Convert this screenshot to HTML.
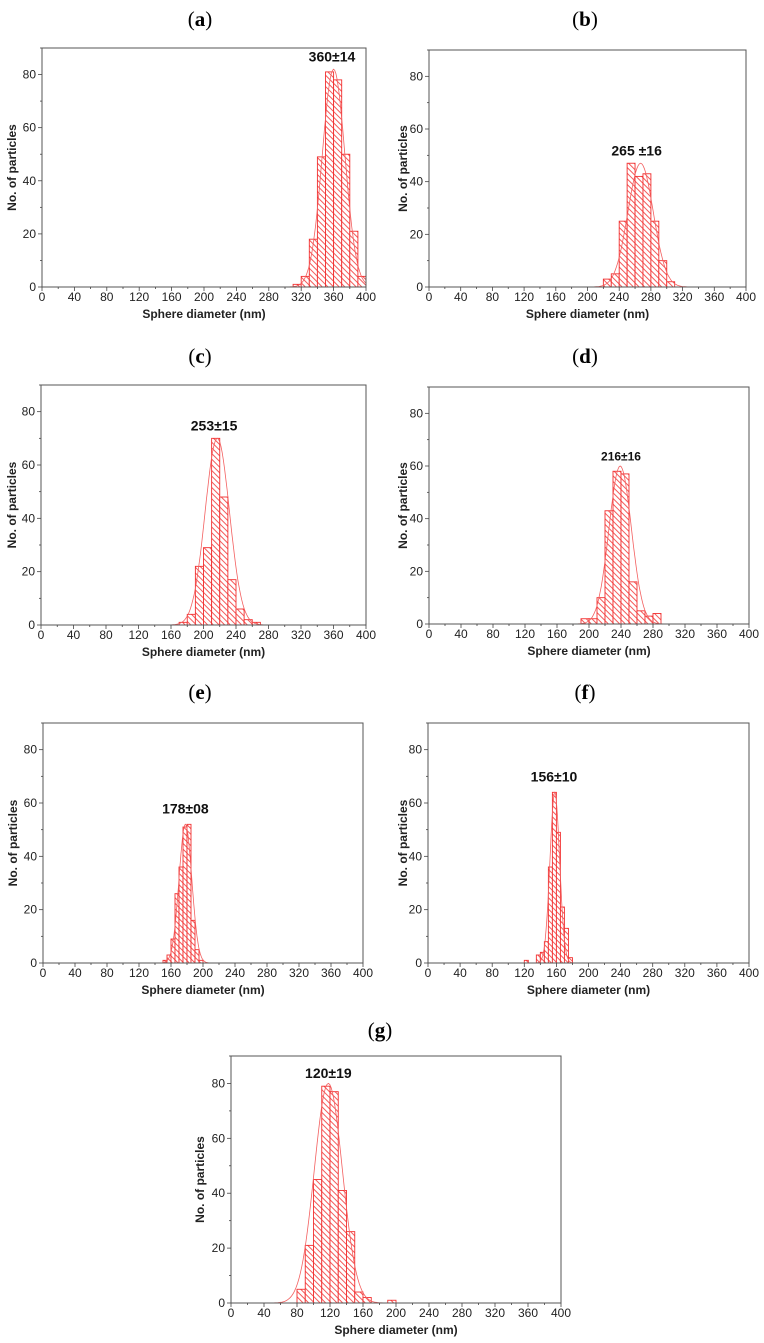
<!DOCTYPE html>
<html><head><meta charset="utf-8"><style>
html,body{margin:0;padding:0;background:#fff;}
svg{display:block;}
</style></head><body>
<svg id="fig" width="764" height="1343" viewBox="0 0 764 1343" xmlns="http://www.w3.org/2000/svg">
<defs>
<pattern id="hatch" patternUnits="userSpaceOnUse" width="4" height="4" patternTransform="rotate(-45)">
<rect x="0" y="0" width="4" height="4" fill="#fff"/>
<line x1="1" y1="0" x2="1" y2="4" stroke="#f45a5a" stroke-width="1"/>
</pattern>
</defs>
</svg>
<script>
// ---- data ----
const panelIds = ['a','b','c','d','e','f','g'];
const binWidths = [10,10,10,10,5,5,10];
const binStartsA = [310,320,330,340,350,360,370,380,390];
const countsA = [1,4,18,49,81,78,50,21,4];
const binStartsB = [220,230,240,250,260,270,280,290,300];
const countsB = [3,5,25,47,42,43,25,10,2];
const binStartsC = [170,180,190,200,210,220,230,240,250,260];
const countsC = [1,4,22,29,70,48,17,6,2,1];
const binStartsD = [190,200,210,220,230,240,250,260,270,280];
const countsD = [2,2,10,43,58,57,16,5,3,4];
const binStartsE = [150,155,160,165,170,175,180,185,190,195];
const countsE = [1,3,9,26,36,51,52,16,5,1];
const binStartsF = [120,135,140,145,150,155,160,165,170,175];
const countsF = [1,3,4,8,36,64,49,21,13,2];
const binStartsG = [80,90,100,110,120,130,140,150,160,190];
const countsG = [5,21,45,79,77,41,26,4,2,1];
const fitMeans = [360,267,217,239,178,158,118];
const fitSigmas = [14,16,15,14,8,6,17];
const fitAmps = [82,47,70,60,52,64,80];
const annotations = ['360±14','265 ±16','253±15','216±16','178±08','156±10','120±19'];
const annotationX = [358,262,213,240,178,157,118];
const annotationY = [85,50,73,62,56,68,82];
const xTicks = [0,40,80,120,160,200,240,280,320,360,400];
const yTicks = [0,20,40,60,80];

// ---- layout ----
const boxes = [
 {l:42,r:366,t:48,b:287,tx:200,ty:26,yt:12},
 {l:429,r:746,t:50,b:287,tx:585,ty:26,yt:403},
 {l:41,r:366,t:385,b:625,tx:200,ty:363,yt:12},
 {l:429,r:749,t:387,b:624,tx:585,ty:363,yt:403},
 {l:43,r:363,t:723,b:963,tx:200,ty:699,yt:13},
 {l:428,r:749,t:723,b:963,tx:585,ty:699,yt:403},
 {l:231,r:561,t:1056,b:1303,tx:380,ty:1037,yt:200}
];
const starts=[binStartsA,binStartsB,binStartsC,binStartsD,binStartsE,binStartsF,binStartsG];
const counts=[countsA,countsB,countsC,countsD,countsE,countsF,countsG];
const NS='http://www.w3.org/2000/svg';
const svg=document.getElementById('fig');
function mk(tag,attrs,parent){const e=document.createElementNS(NS,tag);for(const k in attrs)e.setAttribute(k,attrs[k]);(parent||svg).appendChild(e);return e;}

panelIds.forEach((id,i)=>{
 const B=boxes[i];
 const g=mk('g',{});
 
 
 const xs=v=>B.l+(v/400)*(B.r-B.l);
 const ys=v=>B.b-(v/90)*(B.b-B.t);
 const tt=mk('text',{x:B.tx,y:B.ty,'text-anchor':'middle','font-family':'Liberation Serif, serif','font-size':'21'},g);
 
 
 tt.innerHTML='(<tspan font-weight="bold">'+id+'</tspan>)';
 starts[i].forEach((s,j)=>{
  const x0=xs(s),x1=xs(s+binWidths[i]),y0=ys(counts[i][j]);
  const r=mk('rect',{x:x0,y:y0,width:x1-x0,height:B.b-y0,fill:'url(#hatch)',stroke:'#f23030','stroke-width':'0.9'},g);
  
  
 });
 let d='';
 const m=fitMeans[i],sd=fitSigmas[i],A=fitAmps[i];
 for(let v=m-4*sd;v<=m+4*sd;v+=sd/10){
  if(v<0||v>400)continue;
  const c=A*Math.exp(-0.5*((v-m)/sd)**2);
  d+=(d?'L':'M')+xs(v).toFixed(1)+','+ys(c).toFixed(1);
 }
 const p=mk('path',{d:d,fill:'none',stroke:'#f36060','stroke-width':'0.8'},g);
 
 
 const f=mk('rect',{x:B.l,y:B.t,width:B.r-B.l,height:B.b-B.t,fill:'none',stroke:'#555','stroke-width':'1'},g);
 
 
 for(let v=0;v<=400;v+=20){
  const major=v%40===0;
  mk('line',{x1:xs(v),x2:xs(v),y1:B.b,y2:B.b+(major?4:2),stroke:'#444','stroke-width':'0.8'},g);
 }
 xTicks.forEach(v=>{
  const t=mk('text',{x:xs(v),y:B.b+14,'text-anchor':'middle','font-family':'Liberation Sans, sans-serif','font-size':'12',fill:'#222'},g);
  
  
  t.textContent=v;
 });
 for(let v=0;v<=90;v+=10){
  const major=v%20===0;
  mk('line',{x1:B.l,x2:B.l-(major?4:2),y1:ys(v),y2:ys(v),stroke:'#444','stroke-width':'0.8'},g);
 }
 yTicks.forEach(v=>{
  const t=mk('text',{x:B.l-6,y:ys(v)+4,'text-anchor':'end','font-family':'Liberation Sans, sans-serif','font-size':'12',fill:'#222'},g);
  
  
  t.textContent=v;
 });
 const xt=mk('text',{x:(B.l+B.r)/2,y:B.b+31,'text-anchor':'middle','font-family':'Liberation Sans, sans-serif','font-size':'12','font-weight':'bold',fill:'#222'},g);
 
 
 xt.textContent='Sphere diameter (nm)';
 const cy=(B.t+B.b)/2;
 const yt=mk('text',{x:B.yt,y:cy,'text-anchor':'middle','font-family':'Liberation Sans, sans-serif','font-size':'12','font-weight':'bold',fill:'#222',transform:'rotate(-90 '+B.yt+' '+cy+')','dominant-baseline':'central'},g);
 
 
 yt.textContent='No. of particles';
 const an=mk('text',{x:xs(annotationX[i]),y:ys(annotationY[i]),'text-anchor':'middle','font-family':'Liberation Sans, sans-serif','font-size':id==='d'?'12':'14','font-weight':'bold',fill:'#111'},g);
 
 
 an.textContent=annotations[i];
});
</script>
</body></html>
